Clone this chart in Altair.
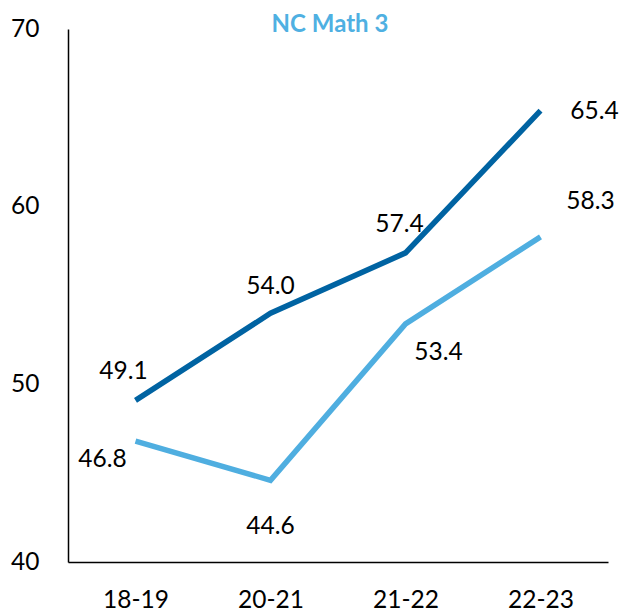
import altair as alt
import pandas as pd

years = ["18-19", "20-21", "21-22", "22-23"]
series_names = ["Dark", "Light"]
dark_values = [49.1, 54.0, 57.4, 65.4]
light_values = [46.8, 44.6, 53.4, 58.3]
colors = ["#0063a2", "#4faee0"]
title_text = "NC Math 3"

rows = []
for i, y in enumerate(years):
    rows.append({"year": y, "series": series_names[0], "value": dark_values[i], "idx": i})
    rows.append({"year": y, "series": series_names[1], "value": light_values[i], "idx": i})
df = pd.DataFrame(rows)

FONT = "Lato"
FS = 24.5

x_enc = alt.X("year:N", sort=years, scale=alt.Scale(type="point", padding=0.5),
              axis=alt.Axis(title=None, ticks=False, labelPadding=26, labelFontSize=FS,
                            labelFont=FONT, labelColor="black", domainColor="black",
                            domainWidth=1.5, labelAngle=0))
y_enc = alt.Y("value:Q", scale=alt.Scale(domain=[40, 70], nice=False, zero=False),
              axis=alt.Axis(title=None, values=[40, 50, 60, 70], grid=False, ticks=False,
                            labelPadding=29, labelFontSize=FS, labelFont=FONT,
                            labelColor="black", domainColor="black", domainWidth=1.5))

base = alt.Chart(df)

lines = base.mark_line(strokeWidth=5.5).encode(
    x=x_enc, y=y_enc,
    color=alt.Color("series:N", scale=alt.Scale(domain=series_names, range=colors), legend=None),
)

# label offsets (layout): (series, index) -> (dx, dy)
offsets = {
    (0, 0): (-12, -28), (0, 1): (0, -26), (0, 2): (-6, -28), (0, 3): (54, 1),
    (1, 0): (-33, 19), (1, 1): (0, 47), (1, 2): (33, 29), (1, 3): (50, -35),
}

layers = [lines]
for (s, i), (dx, dy) in offsets.items():
    layers.append(
        base.transform_filter(
            (alt.datum.series == series_names[s]) & (alt.datum.idx == i)
        ).mark_text(font=FONT, fontSize=FS, color="black", align="center",
                    baseline="middle", dx=dx, dy=dy).encode(
            x=alt.X("year:N", sort=years), y="value:Q",
            text=alt.Text("value:Q", format=".1f"))
    )

title_layer = alt.Chart(pd.DataFrame({"t": [title_text]})).mark_text(
    font=FONT, fontSize=24, fontWeight="bold", color="#4fb0e2",
    align="center", baseline="alphabetic").encode(
    x=alt.value(262), y=alt.value(3), text="t:N")
layers.append(title_layer)

chart = alt.layer(*layers).properties(
    width=540, height=533,
    autosize="none",
    padding={"left": 60, "top": 21, "right": 21, "bottom": 52},
).configure_view(stroke=None)

chart.save("out.html", embed_options={"renderer": "svg", "actions": False})
